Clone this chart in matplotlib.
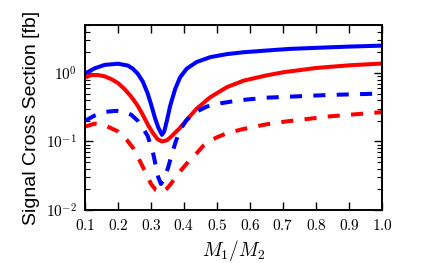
import math
import matplotlib
matplotlib.use("Agg")
import matplotlib.pyplot as plt
from matplotlib.ticker import FixedLocator, FuncFormatter, LogLocator, NullFormatter

plt.rcParams["mathtext.fontset"] = "cm"

# values
x_blue = [0.10, 0.13, 0.16, 0.20, 0.23, 0.245, 0.26, 0.275, 0.29, 0.30, 0.312,
          0.322, 0.333, 0.34, 0.348, 0.358, 0.373, 0.388, 0.408, 0.438, 0.48,
          0.53, 0.58, 0.65, 0.72, 0.80, 0.90, 1.00]
blue_solid = [0.98, 1.17, 1.31, 1.36, 1.28, 1.15, 0.97, 0.75, 0.50, 0.35, 0.22,
              0.16, 0.125, 0.14, 0.20, 0.33, 0.58, 0.86, 1.15, 1.44, 1.70,
              1.88, 2.00, 2.12, 2.24, 2.32, 2.42, 2.50]

x_red = [0.10, 0.12, 0.14, 0.16, 0.18, 0.20, 0.22, 0.24, 0.26, 0.277, 0.292,
         0.307, 0.32, 0.333, 0.348, 0.36, 0.375, 0.388, 0.408, 0.438, 0.479,
         0.53, 0.58, 0.65, 0.70, 0.80, 0.90, 1.00]
red_solid = [0.86, 0.93, 0.93, 0.89, 0.81, 0.71, 0.58, 0.45, 0.33, 0.235, 0.17,
             0.13, 0.108, 0.10, 0.104, 0.116, 0.137, 0.158, 0.206, 0.30, 0.44,
             0.62, 0.77, 0.92, 1.02, 1.18, 1.29, 1.37]

x_blue_d = [0.10, 0.13, 0.16, 0.196, 0.22, 0.24, 0.26, 0.277, 0.29, 0.307,
            0.322, 0.33, 0.34, 0.352, 0.363, 0.375, 0.388, 0.408, 0.438, 0.469,
            0.51, 0.57, 0.65, 0.72, 0.84, 1.00]
blue_dashed = [0.20, 0.24, 0.27, 0.28, 0.27, 0.245, 0.20, 0.152, 0.12, 0.065,
               0.03, 0.024, 0.028, 0.042, 0.065, 0.10, 0.147, 0.206, 0.272,
               0.323, 0.36, 0.40, 0.435, 0.45, 0.477, 0.50]

x_red_d = [0.10, 0.13, 0.16, 0.20, 0.226, 0.246, 0.267, 0.285, 0.30, 0.315,
           0.333, 0.348, 0.36, 0.375, 0.393, 0.418, 0.438, 0.46, 0.48, 0.50,
           0.53, 0.58, 0.65, 0.71, 0.84, 1.00]
red_dashed = [0.165, 0.182, 0.172, 0.14, 0.106, 0.08, 0.051, 0.034, 0.024,
              0.0195, 0.018, 0.0205, 0.024, 0.03, 0.039, 0.054, 0.067, 0.088,
              0.103, 0.115, 0.132, 0.152, 0.178, 0.196, 0.232, 0.268]

x_ticks = [0.1, 0.2, 0.3, 0.4, 0.5, 0.6, 0.7, 0.8, 0.9, 1.0]

fig = plt.figure(figsize=(4.25, 2.63), dpi=100)
ax = fig.add_axes([0.2, 0.2015, 0.699, 0.7035])

lw = 2.9
dash = (0, (3.0, 2.8))
style = dict(lw=lw, solid_joinstyle="round", dash_joinstyle="round")
ax.plot(x_blue, blue_solid, color="#0000ff", **style)
ax.plot(x_red, red_solid, color="#ff0000", **style)
ax.plot(x_blue_d, blue_dashed, color="#0000ff", linestyle=dash, **style)
ax.plot(x_red_d, red_dashed, color="#ff0000", linestyle=dash, **style)

ax.set_yscale("log")
ax.set_xlim(0.1, 1.0)
ax.set_ylim(0.01, 5.0)

ax.xaxis.set_major_locator(FixedLocator(x_ticks))
ax.xaxis.set_major_formatter(FuncFormatter(lambda v, p: r"$%.1f$" % v))
ax.yaxis.set_major_locator(LogLocator(base=10))
ax.yaxis.set_major_formatter(FuncFormatter(lambda v, p: r"$10^{%d}$" % round(math.log10(v))))
ax.yaxis.set_minor_locator(LogLocator(base=10, subs=range(2, 10)))
ax.yaxis.set_minor_formatter(NullFormatter())

ax.tick_params(which="both", direction="in", top=True, right=True, labelsize=11)
ax.tick_params(which="major", length=6, width=1.0, pad=6)
ax.tick_params(which="minor", length=3.5, width=0.8)
for s in ax.spines.values():
    s.set_linewidth(1.4)

ax.set_xlabel(r"$M_1/M_2$", fontsize=14, labelpad=3)
ax.set_ylabel("Signal Cross Section [fb]", fontsize=14,
              family=["Liberation Sans", "DejaVu Sans"], labelpad=4)

fig.savefig("out.png", dpi=100)
